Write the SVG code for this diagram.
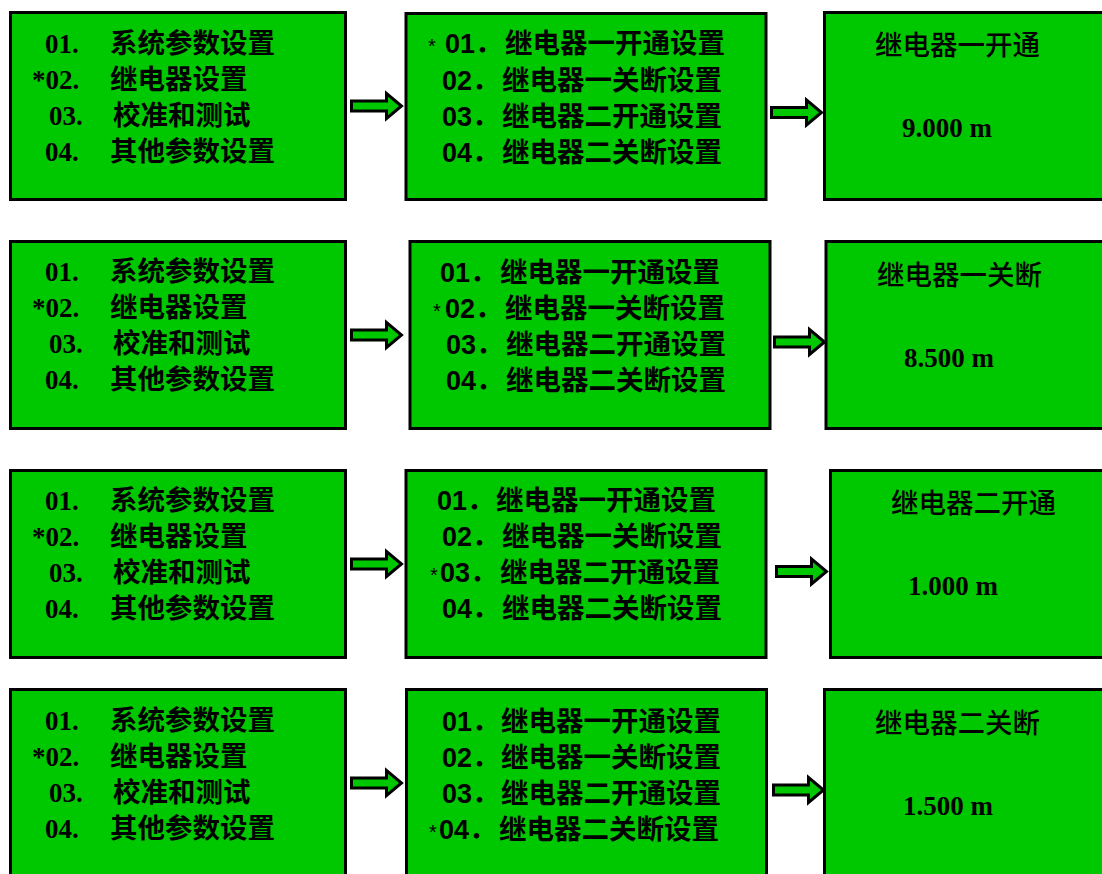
<svg xmlns="http://www.w3.org/2000/svg" xmlns:xlink="http://www.w3.org/1999/xlink" width="1102" height="874" viewBox="0 0 1102 874">
<style>
.box{fill:#00C800;stroke:#000;stroke-width:3}
.arr{fill:#00C800;stroke:#000;stroke-width:3;stroke-linejoin:miter}
.n{font-family:"Liberation Serif","Noto Sans CJK SC",serif;font-weight:bold;font-size:27px;fill:#000}
.c{font-family:"Noto Sans CJK SC",sans-serif;font-weight:bold;font-size:27.5px;fill:#000}
.s{font-family:"Liberation Sans","Noto Sans CJK SC",sans-serif;font-weight:bold;font-size:27px;fill:#000}
.st{font-family:"Liberation Sans",sans-serif;font-size:20px;fill:#000}
.t{font-family:"Noto Sans CJK SC",sans-serif;font-weight:500;font-size:27.5px;fill:#000}
</style>
<defs>
<path id="arrow" class="arr" d="M0,-5 H35 V-12.5 L50,0 L35,12.5 V5 H0 Z"/>
</defs>
<rect width="1102" height="874" fill="#fff"/>

<!-- Row 1 -->
<g id="main1">
<rect class="box" x="10.5" y="12.5" width="335" height="187"/>
<text class="n" x="45" y="53">01.</text><text class="c" x="110" y="53">系统参数设置</text>
<text class="n" x="32" y="89">*02.</text><text class="c" x="110" y="89">继电器设置</text>
<text class="n" x="49" y="125">03.</text><text class="c" x="113" y="125">校准和测试</text>
<text class="n" x="45" y="161">04.</text><text class="c" x="110" y="161">其他参数设置</text>
</g>
<g id="relay1">
<rect class="box" x="406" y="13.5" width="360" height="186"/>
<text class="st" x="428" y="53">*</text><text class="s" x="445" y="53">01．</text><text class="c" x="505" y="53">继电器一开通设置</text>
<text class="s" x="442" y="90">02．</text><text class="c" x="502" y="90">继电器一关断设置</text>
<text class="s" x="442" y="126">03．</text><text class="c" x="502" y="126">继电器二开通设置</text>
<text class="s" x="442" y="162">04．</text><text class="c" x="502" y="162">继电器二关断设置</text>
</g>
<g id="value1">
<rect class="box" x="824.5" y="12.5" width="300" height="187"/>
<text class="t" x="875" y="55">继电器一开通</text>
<text class="n" x="902" y="137">9.000 m</text>
</g>

<!-- Row 2 -->
<g id="main2">
<rect class="box" x="10.5" y="241.5" width="335" height="187"/>
<text class="n" x="45" y="281">01.</text><text class="c" x="110" y="281">系统参数设置</text>
<text class="n" x="32" y="317">*02.</text><text class="c" x="110" y="317">继电器设置</text>
<text class="n" x="49" y="353">03.</text><text class="c" x="113" y="353">校准和测试</text>
<text class="n" x="45" y="389">04.</text><text class="c" x="110" y="389">其他参数设置</text>
</g>
<g id="relay2">
<rect class="box" x="410" y="241.5" width="360" height="187"/>
<text class="s" x="440" y="282">01．</text><text class="c" x="500" y="282">继电器一开通设置</text>
<text class="st" x="433" y="318">*</text><text class="s" x="445" y="318">02．</text><text class="c" x="505" y="318">继电器一关断设置</text>
<text class="s" x="446" y="354">03．</text><text class="c" x="506" y="354">继电器二开通设置</text>
<text class="s" x="446" y="390">04．</text><text class="c" x="506" y="390">继电器二关断设置</text>
</g>
<g id="value2">
<rect class="box" x="826" y="241.5" width="300" height="187"/>
<text class="t" x="877" y="285">继电器一关断</text>
<text class="n" x="904" y="367">8.500 m</text>
</g>

<!-- Row 3 -->
<g id="main3">
<rect class="box" x="10.5" y="470.5" width="335" height="187"/>
<text class="n" x="45" y="510">01.</text><text class="c" x="110" y="510">系统参数设置</text>
<text class="n" x="32" y="546">*02.</text><text class="c" x="110" y="546">继电器设置</text>
<text class="n" x="49" y="582">03.</text><text class="c" x="113" y="582">校准和测试</text>
<text class="n" x="45" y="618">04.</text><text class="c" x="110" y="618">其他参数设置</text>
</g>
<g id="relay3">
<rect class="box" x="406" y="470.5" width="360" height="187"/>
<text class="s" x="437" y="510">01．</text><text class="c" x="496" y="510">继电器一开通设置</text>
<text class="s" x="442" y="546">02．</text><text class="c" x="502" y="546">继电器一关断设置</text>
<text class="st" x="430" y="582">*</text><text class="s" x="440" y="582">03．</text><text class="c" x="500" y="582">继电器二开通设置</text>
<text class="s" x="442" y="618">04．</text><text class="c" x="502" y="618">继电器二关断设置</text>
</g>
<g id="value3">
<rect class="box" x="830.5" y="470.5" width="300" height="187"/>
<text class="t" x="891" y="513">继电器二开通</text>
<text class="n" x="908" y="595">1.000 m</text>
</g>

<!-- Row 4 -->
<g id="main4">
<rect class="box" x="10.5" y="689.5" width="335" height="200"/>
<text class="n" x="45" y="730">01.</text><text class="c" x="110" y="730">系统参数设置</text>
<text class="n" x="32" y="766">*02.</text><text class="c" x="110" y="766">继电器设置</text>
<text class="n" x="49" y="802">03.</text><text class="c" x="113" y="802">校准和测试</text>
<text class="n" x="45" y="838">04.</text><text class="c" x="110" y="838">其他参数设置</text>
</g>
<g id="relay4">
<rect class="box" x="406.5" y="689.5" width="360" height="200"/>
<text class="s" x="442" y="731">01．</text><text class="c" x="501" y="731">继电器一开通设置</text>
<text class="s" x="442" y="767">02．</text><text class="c" x="501" y="767">继电器一关断设置</text>
<text class="s" x="442" y="803">03．</text><text class="c" x="501" y="803">继电器二开通设置</text>
<text class="st" x="429" y="839">*</text><text class="s" x="439" y="839">04．</text><text class="c" x="499" y="839">继电器二关断设置</text>
</g>
<g id="value4">
<rect class="box" x="824.5" y="689.5" width="300" height="200"/>
<text class="t" x="875" y="733">继电器二关断</text>
<text class="n" x="903" y="815">1.500 m</text>
</g>

<g id="connectors">
<use xlink:href="#arrow" transform="translate(351.5,106)"/>
<use xlink:href="#arrow" transform="translate(771.5,112.5)"/>
<use xlink:href="#arrow" transform="translate(351.5,335)"/>
<use xlink:href="#arrow" transform="translate(774.5,342)"/>
<use xlink:href="#arrow" transform="translate(351.5,564)"/>
<use xlink:href="#arrow" transform="translate(776.5,571.5)"/>
<use xlink:href="#arrow" transform="translate(351.5,783)"/>
<use xlink:href="#arrow" transform="translate(773.5,790)"/>
</g>
</svg>
